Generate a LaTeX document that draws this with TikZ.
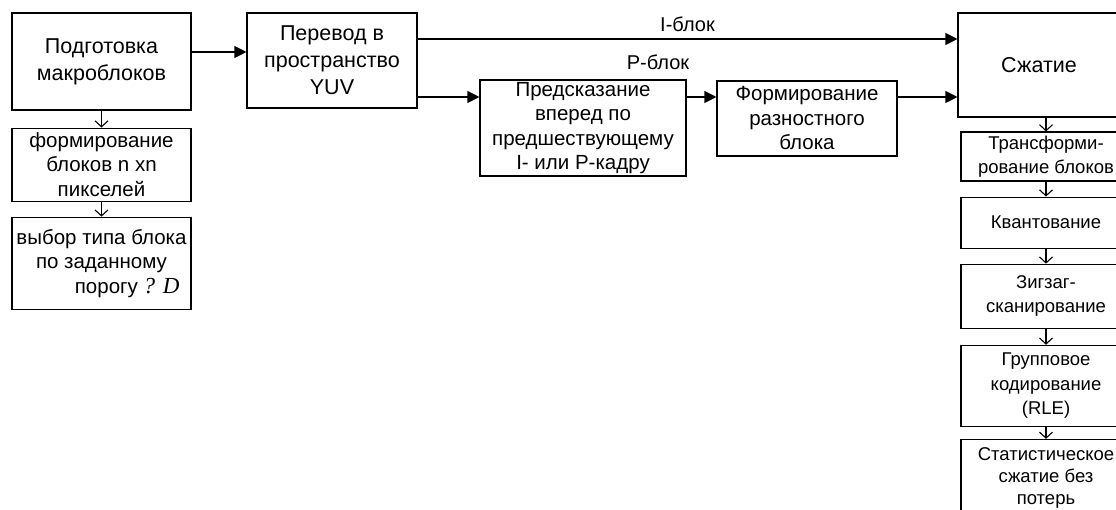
\documentclass[tikz,border=0pt]{standalone}
\usepackage{fontspec}
\setmainfont{Liberation Sans}
\newfontfamily\serifit{Liberation Serif}
\usetikzlibrary{arrows.meta, positioning}

\begin{document}
\begin{tikzpicture}[
  x = 1pt, y = -1pt,
  node distance = 15pt,
  stage/.style  = {rectangle, draw=black, line width=1.1pt, fill=white,
                   align=center, inner sep=1pt, font=\fontsize{20.5}{24.5}\selectfont},
  bigbox/.style = {stage, font=\fontsize{21.5}{27}\selectfont},
  colbox/.style = {stage, minimum width=170pt, font=\fontsize{18.5}{24.5}\selectfont},
  arr/.style    = {-{Triangle[length=12pt,width=12pt]}, line width=1.1pt},
  down/.style   = {-{Straight Barb[length=6pt,width=13pt]}, line width=1.1pt},
  lbl/.style    = {font=\fontsize{20}{22}\selectfont},
]
\clip (0,0) rectangle (1116,510);

%% ── Left column: macroblocks ──────────────────────────────────────
\node[bigbox, minimum width=179pt, minimum height=97pt] (prep) at (101.5,61.5)
    {Подготовка\\макроблоков};
\node[stage, minimum width=179pt, minimum height=73pt, below=17pt of prep] (blocks)
    {формирование\\блоков n xn\\пикселей};
\node[stage, minimum width=179pt, minimum height=92pt, below=15pt of blocks] (choose)
    {выбор типа блока\\по заданному\\\hspace*{2.5em}порогу {\serifit\itshape\fontsize{23}{24}\selectfont ? D}};

%% ── Middle chain ──────────────────────────────────────────────────
\node[bigbox, minimum width=170pt, minimum height=95pt] (yuv) at (332,60.5)
    {Перевод в\\пространство\\YUV};
\node[stage, minimum width=206pt, minimum height=96pt] (predict) at (583,128)
    {Предсказание\\вперед по\\предшествующему\\I- или P-кадру};
\node[stage, minimum width=180pt, minimum height=75pt] (diff) at (807,118.5)
    {Формирование\\разностного\\блока};

%% ── Right column: compression ─────────────────────────────────────
\node[bigbox, minimum width=162pt, minimum height=104pt] (compress) at (1039,65)
    {Сжатие};
\node[colbox, minimum height=49pt] (transform) at (1046,156.5)
    {Трансформи-\\рование блоков};
\node[colbox, minimum height=51pt, below=of transform] (quant) {Квантование};
\node[colbox, minimum height=64pt, below=of quant]     (zigzag) {Зигзаг-\\сканирование};
\node[colbox, minimum height=81pt, below=16pt of zigzag] (rle)
    {Групповое\\кодирование\\(RLE)};
\node[colbox, minimum height=78pt, below=12pt of rle, font=\fontsize{18.5}{22}\selectfont] (entropy)
    {Статистическое\\сжатие без\\потерь};

%% ── Arrows ────────────────────────────────────────────────────────
\draw[down] (prep)   -- (blocks);
\draw[down] (blocks) -- (choose);
\draw[arr]  (prep.east |- 0,52) -- (yuv.west |- 0,52);

\draw[arr] (yuv.east |- 0,39) -- node[lbl, above=3pt]{I-блок} (compress.west |- 0,39);
\draw[arr] (yuv.east |- 0,97) -- (predict.west |- 0,97);
\draw[arr] (predict.east |- 0,97) -- (diff.west |- 0,97);
\draw[arr] (diff.east |- 0,97) -- (compress.west |- 0,97);
\node[lbl] (plabel) at (658,62) {P-блок};

\draw[down] (compress.south -| transform.north) -- (transform);
\draw[down] (transform) -- (quant);
\draw[down] (quant)     -- (zigzag);
\draw[down] (zigzag)    -- (rle);
\draw[down] (rle)       -- (entropy);

\end{tikzpicture}
\end{document}
